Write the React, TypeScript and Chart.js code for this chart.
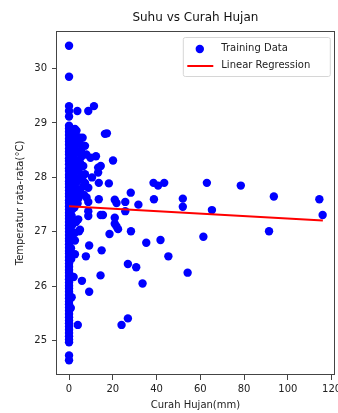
import React, { useEffect, useRef } from "react";
import { Chart, registerables } from "chart.js";

Chart.register(...registerables);

// Days without rain (Curah Hujan = 0 mm): temperatures
const dryDayTemps = [
  30.42, 29.85, 29.31, 29.22, 29.12, 28.95, 28.9, 28.84, 28.78, 28.71, 28.66, 28.6,
  28.53, 28.47, 28.42, 28.35, 28.3, 28.24, 28.17, 28.12, 28.05, 28.0, 27.93, 27.88,
  27.82, 27.76, 27.7, 27.65, 27.58, 27.53, 27.47, 27.41, 27.35, 27.3, 27.24, 27.18,
  27.12, 27.06, 27.0, 26.94, 26.88, 26.83, 26.77, 26.71, 26.65, 26.6, 26.54, 26.48,
  26.42, 26.36, 26.3, 26.25, 26.19, 26.13, 26.07, 26.01, 25.96, 25.9, 25.84, 25.78,
  25.72, 25.67, 25.61, 25.55, 25.49, 25.43, 25.37, 25.32, 25.26, 25.2, 25.14, 25.08,
  25.02, 24.97, 24.73, 24.64,
];

// Rainy days: rainfall (mm) and average temperature (°C)
const rainyDayRain = [
  3.8, 8.8, 11.4, 17.3, 12.3, 20.1, 14.5, 6.2, 5.4, 13.3, 7.3, 7.3,
  13.6, 18.2, 8.8, 28.2, 13.6, 20.9, 25.7, 8.8, 31.7, 38.6, 40.7, 43.5,
  63.0, 78.5, 93.6, 114.4, 115.9, 38.8, 52.0, 52.0, 65.3, 91.4, 61.4, 41.8,
  45.4, 54.2, 21.7, 25.7, 14.5, 15.5, 20.9, 20.9, 22.4, 4.6, 18.5, 28.3,
  35.3, 9.2, 14.9, 7.7, 26.9, 30.7, 14.4, 33.6, 5.9, 9.2, 2.1, 26.9,
  24.0, 4.0, 2.7, 2.7, 8.8, 5.0, 4.2, 4.2, 6.5, 4.2, 21.7, 13.3,
  6.5, 5.0, 7.3, 4.2, 5.0, 5.8, 8.0, 3.5, 8.8, 4.2, 2.7, 2.0,
  2.7, 2.0, 2.7, 2.0, 1.2, 3.5, 16.4, 1.0, 0.6, 1.4, 0.8, 1.5,
  0.5, 1.1, 0.9, 1.6, 0.7, 1.3, 0.6, 1.0, 0.4, 1.2, 0.8, 1.8,
  3.1, 4.8, 2.4, 5.6, 3.3, 1.9, 4.4, 2.9, 6.1, 3.6, 1.7, 5.2,
  2.3, 4.1, 3.0, 6.8, 2.5, 3.9, 1.6, 5.5, 2.8, 4.6, 3.4, 7.9,
  9.8, 10.5, 2.2, 3.2, 1.4, 2.6,
];
const rainyDayTemp = [
  29.22, 29.22, 29.31, 28.81, 28.39, 28.31, 28.21, 28.73, 28.5, 28.18, 28.06, 27.9,
  27.9, 27.89, 27.81, 27.72, 27.6, 27.59, 27.55, 27.55, 27.5, 27.9, 27.85, 27.9,
  27.9, 27.85, 27.65, 27.6, 27.31, 27.6, 27.61, 27.46, 27.4, 27.01, 26.91, 26.85,
  26.55, 26.25, 27.53, 27.38, 27.31, 27.31, 27.26, 27.15, 27.05, 27.01, 26.96, 27.01,
  26.8, 26.75, 26.66, 26.55, 26.41, 26.35, 26.2, 26.05, 26.1, 25.9, 26.17, 25.41,
  25.29, 25.29, 26.84, 26.59, 27.29, 27.04, 27.61, 27.72, 28.21, 28.28, 27.1, 28.09,
  27.84, 28.73, 28.58, 28.46, 28.27, 28.03, 27.63, 27.66, 27.38, 27.23, 28.89, 28.61,
  28.33, 28.09, 27.87, 27.5, 27.29, 27.78, 28.8, 28.55, 28.15, 27.95, 27.7, 27.45,
  27.2, 26.95, 26.7, 28.4, 28.0, 27.8, 27.35, 26.5, 26.2, 25.8, 25.6, 28.65,
  28.78, 28.62, 28.52, 28.38, 28.24, 28.2, 28.12, 28.0, 27.96, 27.92, 27.85, 27.78,
  27.74, 27.7, 27.57, 27.68, 27.45, 27.52, 27.42, 28.44, 28.7, 27.98, 28.86, 28.42,
  28.36, 28.0, 27.62, 27.18, 27.12, 26.98,
];

// Linear regression line endpoints
const regressionRain = [0, 116];
const regressionTemp = [27.47, 27.21];

const xTicks = [0, 20, 40, 60, 80, 100, 120];
const yTicks = [25, 26, 27, 28, 29, 30];

const FONT = "'DejaVu Sans', sans-serif";

export default function App() {
  const canvasRef = useRef<HTMLCanvasElement | null>(null);

  useEffect(() => {
    document.body.style.margin = "0";
    const canvas = canvasRef.current;
    if (!canvas) return;

    const scatterData = [
      ...dryDayTemps.map((t) => ({ x: 0, y: t })),
      ...rainyDayRain.map((r, i) => ({ x: r, y: rainyDayTemp[i] })),
    ];
    const lineData = regressionRain.map((r, i) => ({ x: r, y: regressionTemp[i] }));

    const framePlugin = {
      id: "frame",
      afterDatasetsDraw(chart: any) {
        const { ctx, chartArea } = chart;
        ctx.save();
        ctx.strokeStyle = "#444";
        ctx.lineWidth = 1;
        ctx.strokeRect(
          Math.round(chartArea.left) - 0.5,
          Math.round(chartArea.top) + 0.5,
          Math.round(chartArea.right - chartArea.left) + 1,
          Math.round(chartArea.bottom - chartArea.top) - 1
        );
        ctx.restore();
      },
    };

    const titlePlugin = {
      id: "mplTitle",
      afterDraw(chart: any) {
        const { ctx, chartArea } = chart;
        ctx.save();
        ctx.font = `12px ${FONT}`;
        ctx.fillStyle = "#111";
        ctx.textAlign = "center";
        ctx.textBaseline = "middle";
        ctx.fillText("Suhu vs Curah Hujan", (chartArea.left + chartArea.right) / 2, 18);
        ctx.restore();
      },
    };

    const legendPlugin = {
      id: "mplLegend",
      afterDraw(chart: any) {
        const { ctx, chartArea } = chart;
        const ds = chart.data.datasets;
        const w = 147;
        const h = 39;
        const x = chartArea.right - 3.5 - w;
        const y = chartArea.top + 6.5;
        ctx.save();
        ctx.beginPath();
        const r = 2;
        ctx.moveTo(x + r, y);
        ctx.lineTo(x + w - r, y);
        ctx.quadraticCurveTo(x + w, y, x + w, y + r);
        ctx.lineTo(x + w, y + h - r);
        ctx.quadraticCurveTo(x + w, y + h, x + w - r, y + h);
        ctx.lineTo(x + r, y + h);
        ctx.quadraticCurveTo(x, y + h, x, y + h - r);
        ctx.lineTo(x, y + r);
        ctx.quadraticCurveTo(x, y, x + r, y);
        ctx.closePath();
        ctx.fillStyle = "rgba(255,255,255,0.8)";
        ctx.fill();
        ctx.strokeStyle = "#d6d6d6";
        ctx.lineWidth = 1;
        ctx.stroke();

        // entry 1: scatter marker
        ctx.fillStyle = "#0000ff";
        ctx.beginPath();
        ctx.arc(x + 16.5, y + 11.5, 4.2, 0, Math.PI * 2);
        ctx.fill();
        // entry 2: red line
        ctx.strokeStyle = "#ff0000";
        ctx.lineWidth = 2;
        ctx.beginPath();
        ctx.moveTo(x + 4, y + 28.5);
        ctx.lineTo(x + 30, y + 28.5);
        ctx.stroke();

        ctx.font = `10px ${FONT}`;
        ctx.fillStyle = "#222";
        ctx.textAlign = "left";
        ctx.textBaseline = "middle";
        ctx.fillText(ds[1].label, x + 38, y + 10.5);
        ctx.fillText(ds[0].label, x + 38, y + 28);
        ctx.restore();
      },
    };

    const chart = new Chart(canvas, {
      type: "scatter",
      data: {
        datasets: [
          {
            type: "line",
            label: "Linear Regression",
            data: lineData,
            borderColor: "#ff0000",
            borderWidth: 2,
            pointRadius: 0,
            showLine: true,
            fill: false,
            order: 0,
          } as any,
          {
            type: "scatter",
            label: "Training Data",
            data: scatterData,
            backgroundColor: "#0000ff",
            borderWidth: 0,
            pointRadius: 4.2,
            order: 1,
          },
        ],
      },
      options: {
        responsive: false,
        animation: false,
        devicePixelRatio: 1,
        layout: { padding: { top: 31, right: 3, left: 0, bottom: 0 } },
        plugins: {
          legend: { display: false },
          title: { display: false },
          tooltip: { enabled: false },
        },
        scales: {
          x: {
            type: "linear",
            min: -5.5,
            max: 121,
            border: { display: false },
            grid: {
              display: true,
              drawOnChartArea: false,
              drawTicks: true,
              tickLength: 5,
              tickColor: "#444",
            },
            ticks: {
              font: { family: FONT, size: 10 },
              color: "#222",
              padding: 3,
              maxRotation: 0,
            },
            title: {
              display: true,
              text: "Curah Hujan(mm)",
              font: { family: FONT, size: 10 },
              color: "#222",
              padding: { top: 0, bottom: 2 },
            },
            afterBuildTicks: (scale: any) => {
              scale.ticks = xTicks.map((v) => ({ value: v }));
            },
            afterFit: (scale: any) => {
              scale.height = 38;
              scale.paddingLeft = 0;
              scale.paddingRight = 0;
            },
          },
          y: {
            type: "linear",
            min: 24.37,
            max: 30.69,
            border: { display: false },
            grid: {
              display: true,
              drawOnChartArea: false,
              drawTicks: true,
              tickLength: 5,
              tickColor: "#444",
            },
            ticks: {
              font: { family: FONT, size: 10 },
              color: "#222",
              padding: 5,
            },
            title: {
              display: true,
              text: "Temperatur rata-rata(°C)",
              font: { family: FONT, size: 10 },
              color: "#222",
              padding: { top: 14, bottom: 0 },
            },
            afterBuildTicks: (scale: any) => {
              scale.ticks = yTicks.map((v) => ({ value: v }));
            },
            afterFit: (scale: any) => {
              scale.width = 57;
              scale.paddingTop = 0;
              scale.paddingBottom = 0;
            },
          },
        },
      },
      plugins: [framePlugin, titlePlugin, legendPlugin],
    });

    return () => chart.destroy();
  }, []);

  return (
    <div style={{ position: "fixed", left: 0, top: 0, width: 338, height: 413, background: "#fff" }}>
      <canvas ref={canvasRef} width={338} height={413} style={{ width: 338, height: 413 }} />
    </div>
  );
}
